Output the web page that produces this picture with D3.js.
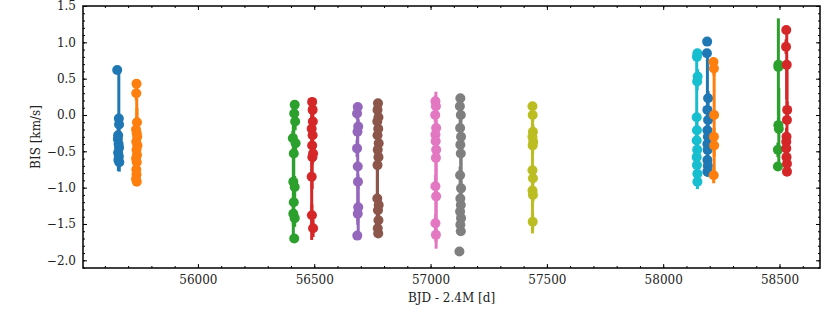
<!DOCTYPE html>
<html><head><meta charset="utf-8">
<script src="https://cdn.jsdelivr.net/npm/d3@7"></script>
<style>body{margin:0;background:#fff}svg{display:block}</style>
</head><body>
<svg id="chart" width="830" height="312"></svg>
<script>
// ---- data: each row is [BJD-2.4M, BIS (km/s), error (km/s)] ----
const season01 = [[55653,0.62,0.04],[55660,-0.05,0.67],[55661,-0.13,0.10],[55657,-0.28,0.12],[55656,-0.33,0.10],[55659,-0.40,0.15],[55661,-0.45,0.10],[55657,-0.52,0.12],[55660,-0.57,0.10],[55658,-0.62,0.15],[55662,-0.65,0.13]];
const season02 = [[55736,0.43,0.04],[55735,0.30,0.10],[55738,-0.10,0.20],[55734,-0.20,0.15],[55737,-0.25,0.68],[55739,-0.30,0.12],[55735,-0.37,0.10],[55740,-0.42,0.15],[55736,-0.48,0.10],[55738,-0.55,0.12],[55734,-0.60,0.10],[55737,-0.65,0.12],[55735,-0.75,0.10],[55736,-0.82,0.08],[55734,-0.88,0.05],[55737,-0.92,0.02]];
const season03 = [[56416,0.14,0.05],[56414,0.02,0.08],[56418,-0.09,0.12],[56408,-0.32,0.10],[56420,-0.39,0.12],[56412,-0.53,0.67],[56410,-0.92,0.78],[56416,-0.99,0.15],[56412,-1.20,0.12],[56410,-1.36,0.15],[56416,-1.42,0.12],[56414,-1.70,0.05]];
const season04 = [[56491,0.18,0.04],[56493,0.07,0.08],[56494,-0.09,0.10],[56489,-0.19,0.10],[56493,-0.28,0.12],[56491,-0.42,0.60],[56495,-0.53,0.12],[56492,-0.58,0.10],[56489,-0.85,0.87],[56490,-1.38,0.15],[56495,-1.56,0.12]];
const season05 = [[56687,0.11,0.04],[56684,0.02,0.08],[56689,-0.16,0.10],[56686,-0.23,0.12],[56684,-0.46,0.12],[56687,-0.71,0.80],[56688,-0.92,0.10],[56689,-1.27,0.39],[56687,-1.36,0.10],[56685,-1.66,0.04]];
const season06 = [[56774,0.16,0.04],[56772,0.07,0.08],[56776,-0.03,0.10],[56771,-0.09,0.10],[56775,-0.19,0.12],[56772,-0.28,0.10],[56777,-0.39,0.12],[56773,-0.48,0.10],[56776,-0.58,0.12],[56772,-0.69,0.85],[56771,-1.15,0.50],[56777,-1.24,0.10],[56774,-1.31,0.12],[56776,-1.45,0.10],[56773,-1.56,0.08],[56775,-1.63,0.03]];
const season07 = [[57021,0.19,0.08],[57023,0.12,0.10],[57020,0.00,0.10],[57024,-0.18,0.12],[57021,-0.27,0.10],[57022,-0.36,0.12],[57024,-0.48,0.10],[57023,-0.59,0.91],[57021,-0.98,0.15],[57024,-1.12,0.72],[57021,-1.49,0.12],[57023,-1.65,0.10]];
const season08 = [[57128,0.23,0.04],[57126,0.12,0.08],[57130,0.00,0.10],[57127,-0.18,0.12],[57131,-0.30,0.10],[57128,-0.41,0.12],[57130,-0.53,0.76],[57127,-0.83,0.12],[57131,-1.01,0.64],[57128,-1.15,0.12],[57130,-1.24,0.10],[57127,-1.33,0.12],[57131,-1.42,0.10],[57128,-1.51,0.10],[57130,-1.60,0.05],[57124,-1.88,0.06]];
const season09 = [[57438,0.12,0.04],[57439,0.00,0.10],[57440,-0.23,0.10],[57438,-0.30,0.12],[57441,-0.37,0.10],[57439,-0.42,0.12],[57438,-0.76,0.87],[57440,-0.87,0.10],[57438,-1.04,0.12],[57440,-1.10,0.10],[57439,-1.47,0.12]];
const season10 = [[58147,0.85,0.04],[58145,0.80,0.05],[58148,0.53,0.10],[58146,0.46,0.12],[58144,-0.03,0.88],[58145,-0.21,0.12],[58144,-0.35,0.10],[58146,-0.48,0.12],[58144,-0.58,0.10],[58145,-0.69,0.12],[58147,-0.81,0.10],[58147,-0.92,0.10]];
const season11 = [[58189,1.01,0.04],[58188,0.85,0.04],[58193,0.23,0.10],[58190,0.07,0.78],[58193,-0.07,0.12],[58190,-0.21,0.10],[58192,-0.30,0.12],[58190,-0.40,0.10],[58191,-0.48,0.12],[58190,-0.62,0.10],[58192,-0.70,0.10],[58190,-0.78,0.07]];
const season12 = [[58216,0.73,0.04],[58218,0.64,0.10],[58219,0.00,0.77],[58218,-0.30,0.12],[58219,-0.42,0.15],[58217,-0.83,0.11]];
const season13 = [[58495,0.69,0.05],[58495,0.66,0.67],[58495,-0.14,0.12],[58497,-0.19,0.56],[58493,-0.48,0.10],[58493,-0.71,0.04]];
const season14 = [[58529,1.17,0.04],[58528,0.94,0.10],[58531,0.69,0.48],[58533,0.07,0.12],[58532,-0.07,0.71],[58530,-0.30,0.12],[58529,-0.37,0.10],[58529,-0.46,0.12],[58530,-0.58,0.10],[58532,-0.67,0.10],[58532,-0.78,0.03]];

const seasons = [season01,season02,season03,season04,season05,season06,season07,season08,season09,season10,season11,season12,season13,season14];
const seasonColors = ["#1f77b4","#ff7f0e","#2ca02c","#d62728","#9467bd","#8c564b","#e377c2","#7f7f7f","#bcbd22","#17becf","#1f77b4","#ff7f0e","#2ca02c","#d62728"];

const xMajorTicks = [56000,56500,57000,57500,58000,58500];
const yMajorTicks = [-2.0,-1.5,-1.0,-0.5,0.0,0.5,1.0,1.5];
const xLabel = "BJD - 2.4M [d]";
const yLabel = "BIS [km/s]";

// ---- layout ----
const L = 83, R = 820, T = 6, B = 268;
const FONT = "'DejaVu Serif', 'Liberation Serif', serif";
const svg = d3.select("#chart");
const x = d3.scaleLinear().domain([55506, 58674]).range([L, R]);
const y = d3.scaleLinear().domain([-2.106, 1.5]).range([B, T]);

const xMinor = d3.range(55600, 58701, 100).filter(v => v >= 55506 && v <= 58674);
const yMinor = d3.range(-21, 16, 1).map(v => v / 10).filter(v => v >= -2.106 && v <= 1.5);

// ---- data marks ----
const plot = svg.append("g");
seasons.forEach((s, i) => {
  const g = plot.append("g");
  const c = seasonColors[i];
  g.selectAll("line").data(s).join("line")
    .attr("x1", d => x(d[0])).attr("x2", d => x(d[0]))
    .attr("y1", d => y(d[1] - d[2])).attr("y2", d => y(d[1] + d[2]))
    .attr("stroke", c).attr("stroke-width", 3);
  g.selectAll("circle").data(s).join("circle")
    .attr("cx", d => x(d[0])).attr("cy", d => y(d[1]))
    .attr("r", 5).attr("fill", c);
});

// ---- axes (inward ticks on all four sides) ----
function styleAxis(g) {
  g.select(".domain").remove();
  g.selectAll("line").attr("stroke", "#000").attr("stroke-width", 1);
  g.selectAll("text").attr("font-family", FONT).attr("font-size", 12).attr("fill", "#222");
}
svg.append("g").attr("transform", `translate(0,${B})`)
  .call(d3.axisBottom(x).tickValues(xMajorTicks).tickSize(-4).tickPadding(7).tickFormat(d3.format("d")))
  .call(styleAxis);
svg.append("g").attr("transform", `translate(0,${B})`)
  .call(d3.axisBottom(x).tickValues(xMinor).tickSize(-2).tickFormat(""))
  .call(styleAxis);
svg.append("g").attr("transform", `translate(0,${T})`)
  .call(d3.axisTop(x).tickValues(xMajorTicks).tickSize(-4).tickFormat(""))
  .call(styleAxis);
svg.append("g").attr("transform", `translate(0,${T})`)
  .call(d3.axisTop(x).tickValues(xMinor).tickSize(-2).tickFormat(""))
  .call(styleAxis);
svg.append("g").attr("transform", `translate(${L},0)`)
  .call(d3.axisLeft(y).tickValues(yMajorTicks).tickSize(-4).tickPadding(7).tickFormat(d3.format(".1f")))
  .call(styleAxis);
svg.append("g").attr("transform", `translate(${L},0)`)
  .call(d3.axisLeft(y).tickValues(yMinor).tickSize(-2).tickFormat(""))
  .call(styleAxis);
svg.append("g").attr("transform", `translate(${R},0)`)
  .call(d3.axisRight(y).tickValues(yMajorTicks).tickSize(-4).tickFormat(""))
  .call(styleAxis);
svg.append("g").attr("transform", `translate(${R},0)`)
  .call(d3.axisRight(y).tickValues(yMinor).tickSize(-2).tickFormat(""))
  .call(styleAxis);

svg.append("rect").attr("x", L).attr("y", T).attr("width", R - L).attr("height", B - T)
  .attr("fill", "none").attr("stroke", "#000").attr("stroke-width", 1.5);

svg.append("text").attr("x", (L + R) / 2).attr("y", 302).attr("text-anchor", "middle")
  .attr("font-family", FONT).attr("font-size", 12).attr("fill", "#222").text(xLabel);
svg.append("text").attr("transform", `translate(40,${(T + B) / 2}) rotate(-90)`).attr("text-anchor", "middle")
  .attr("font-family", FONT).attr("font-size", 12).attr("fill", "#222").text(yLabel);
</script>
</body></html>
